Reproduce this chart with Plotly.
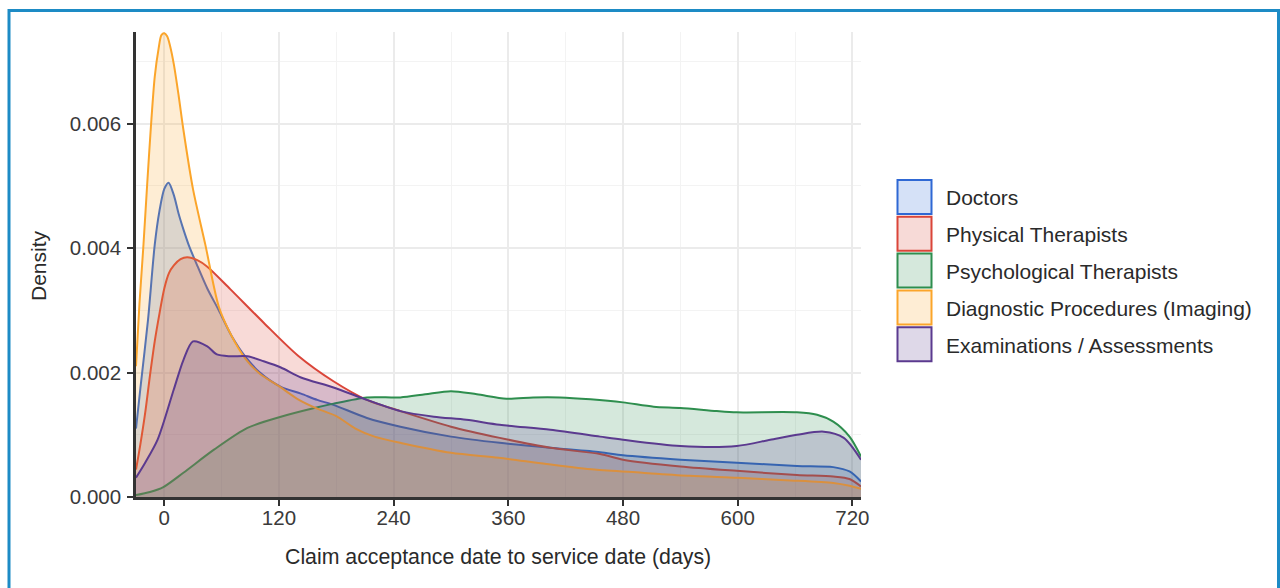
import plotly.graph_objects as go

# Kernel density estimates of days from claim acceptance to service date
doctors_days = [-29.6, -25, -17, -10, -5, 0, 4.5, 10, 15, 20, 26, 35, 45, 57, 70, 85, 100, 122, 143, 160, 177,
                212, 247, 300, 351, 404, 456, 480, 540, 599, 662, 700, 717, 729]
doctors_density = [1.1, 1.75, 2.85, 4.05, 4.6, 4.95, 5.05, 4.85, 4.55, 4.3, 4.03, 3.7, 3.35, 3.0, 2.6, 2.25, 2.0,
                   1.77, 1.66, 1.56, 1.48, 1.27, 1.13, 0.97, 0.87, 0.79, 0.72, 0.67, 0.60, 0.55, 0.50, 0.48, 0.41, 0.25]

physical_days = [-29.6, -25, -20, -15, -10, -5, 0, 5, 10, 17, 24, 35, 45, 69, 104, 140, 177, 212, 247, 300, 351,
                 404, 456, 480, 540, 599, 662, 700, 717, 729]
physical_density = [0.44, 0.85, 1.35, 1.95, 2.5, 2.95, 3.35, 3.6, 3.72, 3.82, 3.85, 3.8, 3.7, 3.34, 2.8, 2.27,
                    1.86, 1.56, 1.38, 1.13, 0.95, 0.79, 0.69, 0.60, 0.49, 0.42, 0.355, 0.33, 0.29, 0.17]

psych_days = [-29.6, -15, -1, 20, 52, 87, 122, 157, 177, 212, 247, 273, 300, 327, 358, 386, 414, 446, 480, 512,
              540, 578, 599, 662, 683, 700, 717, 729]
psych_density = [0.03, 0.08, 0.16, 0.39, 0.76, 1.11, 1.29, 1.43, 1.50, 1.60, 1.60, 1.65, 1.70, 1.65, 1.58, 1.60,
                 1.60, 1.57, 1.52, 1.45, 1.43, 1.38, 1.36, 1.36, 1.32, 1.21, 0.97, 0.65]

imaging_days = [-29.6, -26, -22, -18, -14, -10, -6, -3, 0, 3, 6, 10, 15, 20, 30, 43, 57, 70, 85, 100, 120, 140,
                160, 180, 200, 220, 250, 300, 350, 400, 450, 500, 550, 600, 650, 700, 717, 729]
imaging_density = [2.1, 3.1, 4.0, 5.0, 5.95, 6.75, 7.2, 7.42, 7.45, 7.4, 7.25, 6.95, 6.45, 5.9, 4.95, 4.05, 3.06,
                   2.6, 2.22, 1.98, 1.78, 1.57, 1.42, 1.3, 1.1, 0.97, 0.86, 0.71, 0.63, 0.53, 0.44, 0.39, 0.34,
                   0.31, 0.27, 0.225, 0.18, 0.13]

exams_days = [-29.6, -20, -7, 10, 20, 30, 45, 55, 69, 87, 104, 122, 143, 177, 212, 247, 282, 316, 351, 404, 456,
              480, 540, 599, 634, 662, 690, 711, 729]
exams_density = [0.31, 0.55, 0.92, 1.73, 2.2, 2.5, 2.42, 2.29, 2.26, 2.26, 2.18, 2.08, 1.92, 1.76, 1.56, 1.38,
                 1.29, 1.24, 1.16, 1.08, 0.97, 0.92, 0.82, 0.82, 0.92, 1.0, 1.05, 0.95, 0.60]

series_names = ["Doctors", "Physical Therapists", "Psychological Therapists",
                "Diagnostic Procedures (Imaging)", "Examinations / Assessments"]
series_days = [doctors_days, physical_days, psych_days, imaging_days, exams_days]
series_density = [doctors_density, physical_density, psych_density, imaging_density, exams_density]

line_colors = ["#2F68D4", "#DA4539", "#2E8E4E", "#FBA52A", "#5B3A8F"]
fill_colors = ["rgba(47,104,212,0.2)", "rgba(218,69,57,0.2)", "rgba(46,142,78,0.2)",
               "rgba(251,165,42,0.2)", "rgba(91,58,143,0.2)"]
key_fills = ["#D5E1F7", "#F7DAD7", "#D5E8DC", "#FEEDD4", "#DED8E8"]

TEXT = "#2A2A2A"
FONT = "Liberation Sans, Arial, sans-serif"

fig = go.Figure()
for name, xs, ys, lc, fc in zip(series_names, series_days, series_density, line_colors, fill_colors):
    fig.add_trace(go.Scatter(
        x=xs, y=[v / 1000 for v in ys], name=name, mode="lines",
        line=dict(color=lc, width=2, shape="spline", smoothing=0.8),
        fill="tozeroy", fillcolor=fc, showlegend=False, hoverinfo="skip"))

# plot area spans pixels 136..861 horizontally, 32..497 vertically
L, R, T, B = 136, 861, 32, 497
W, H = 1280, 588


def px(x):
    return (x - L) / (R - L)


def py(y):
    return (B - y) / (B - T)


shapes = []
annotations = []

# legend keys and labels
for i, (name, lc, kf) in enumerate(zip(series_names, line_colors, key_fills)):
    top = 180 + i * 36.8
    shapes.append(dict(type="rect", xref="paper", yref="paper",
                       x0=px(897.5), x1=px(931.5), y0=py(top), y1=py(top + 34),
                       line=dict(color=lc, width=2), fillcolor=kf, layer="above"))
    annotations.append(dict(xref="paper", yref="paper", x=px(944), y=py(top + 18),
                            xanchor="left", yanchor="middle", showarrow=False,
                            text=name, font=dict(size=21, color=TEXT, family=FONT)))

# axis titles
annotations.append(dict(xref="paper", yref="paper", x=px(498), y=py(557), xanchor="center",
                        yanchor="middle", showarrow=False,
                        text="Claim acceptance date to service date (days)",
                        font=dict(size=21.3, color=TEXT, family=FONT)))
annotations.append(dict(xref="paper", yref="paper", x=px(38), y=py(266), xanchor="center",
                        yanchor="middle", showarrow=False, textangle=-90, text="Density",
                        font=dict(size=21, color=TEXT, family=FONT)))

# outer frame
shapes.append(dict(type="rect", xref="paper", yref="paper",
                   x0=px(9), x1=px(1278.5), y0=py(610), y1=py(10.5),
                   line=dict(color="#1D8BC5", width=3), fillcolor="rgba(0,0,0,0)", layer="above"))

fig.update_layout(
    width=W, height=H,
    margin=dict(l=L, r=W - R, t=T, b=H - B),
    paper_bgcolor="white", plot_bgcolor="white",
    font=dict(family=FONT, color=TEXT),
    shapes=shapes, annotations=annotations,
    xaxis=dict(range=[-29.6, 729], tickmode="linear", tick0=0, dtick=120,
               showgrid=True, gridcolor="#EBEBEB", gridwidth=1.5,
               minor=dict(tickmode="linear", tick0=0, dtick=60, showgrid=True,
                          gridcolor="#F3F3F3", gridwidth=1.2),
               showline=True, linecolor="#333333", linewidth=2.5,
               ticks="outside", ticklen=6, tickwidth=2, tickcolor="#333333",
               tickfont=dict(size=20.5, color="#3A3A3A", family=FONT),
               ticklabelstandoff=-5,
               zeroline=False, fixedrange=True),
    yaxis=dict(range=[0, 0.00747], tickmode="linear", tick0=0, dtick=0.002, tickformat=".3f",
               showgrid=True, gridcolor="#EBEBEB", gridwidth=1.5,
               minor=dict(tickmode="linear", tick0=0, dtick=0.001, showgrid=True,
                          gridcolor="#F3F3F3", gridwidth=1.2),
               showline=True, linecolor="#333333", linewidth=2.5,
               ticks="outside", ticklen=6, tickwidth=2, tickcolor="#333333",
               tickfont=dict(size=20.5, color="#3A3A3A", family=FONT),
               ticklabelstandoff=2,
               zeroline=False, fixedrange=True),
)

fig.write_html("out.html", config={"displayModeBar": False})
